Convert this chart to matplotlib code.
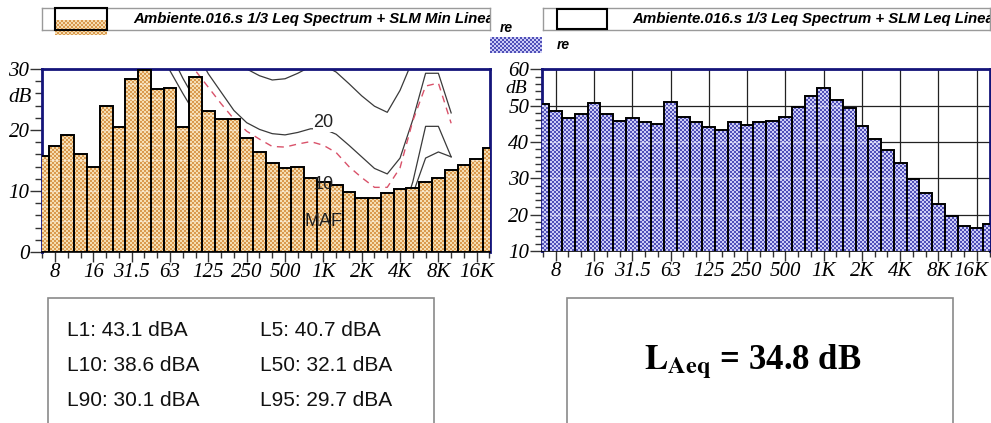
import numpy as np
import matplotlib
matplotlib.use('Agg')
import matplotlib.pyplot as plt
import matplotlib.transforms as mtransforms
from matplotlib.colors import to_rgb
from matplotlib.patches import Rectangle, PathPatch
from matplotlib.path import Path
from matplotlib.ticker import FixedLocator, MultipleLocator

W, H = 991, 423
fig = plt.figure(figsize=(W / 100, H / 100), dpi=100)

# ---------------- data ----------------
band_labels = ['6.3', '8', '10', '12.5', '16', '20', '25', '31.5', '40', '50', '63',
               '80', '100', '125', '160', '200', '250', '315', '400', '500', '630',
               '800', '1K', '1.25K', '1.6K', '2K', '2.5K', '3.15K', '4K', '5K',
               '6.3K', '8K', '10K', '12.5K', '16K', '20K']
min_spectrum = [15.7, 17.3, 19.2, 16.0, 13.9, 24.0, 20.5, 28.3, 29.8, 26.8, 26.9,
                20.5, 28.7, 23.1, 21.8, 21.8, 18.7, 16.4, 14.6, 13.8, 13.9,
                12.1, 11.5, 11.0, 9.9, 8.8, 8.9, 9.6, 10.3, 10.5, 11.4,
                12.1, 13.4, 14.3, 15.2, 17.1]
leq_spectrum = [50.5, 48.6, 46.7, 47.7, 50.9, 47.7, 45.9, 46.6, 45.5, 45.0, 51.0,
                46.8, 45.6, 44.2, 43.3, 45.5, 44.7, 45.6, 45.8, 47.0, 49.6,
                52.8, 54.8, 51.6, 49.5, 44.5, 40.9, 37.8, 34.3, 29.7, 26.1,
                22.9, 19.6, 17.0, 16.3, 17.4]
tick_labels = ['8', '16', '31.5', '63', '125', '250', '500', '1K', '2K', '4K', '8K', '16K']

# hearing contours, bands 50 Hz .. 10 kHz
contour_bands = band_labels[9:33]
maf_curve = [33.4, 29.7, 26.0, 22.5, 19.5, 16.5, 14.0, 12.0, 10.0, 8.5, 7.5,
             6.5, 5.5, 4.5, 3.0, 1.0, -1.0, -2.5, -3.0, -0.5, 9.5, 15.4, 16.4, 15.6]
phon10_curve = [37.0, 32.7, 28.5, 24.8, 21.8, 19.2, 17.0, 15.3, 14.0, 13.0, 12.2,
                11.6, 11.2, 10.6, 9.5, 7.5, 5.5, 3.5, 3.0, 5.0, 11.5, 20.6, 20.6, 15.6]
dashed_curve = [40.0, 36.0, 32.3, 29.7, 27.0, 24.3, 21.8, 19.8, 18.5, 17.3, 17.2,
                17.7, 18.1, 17.5, 16.3, 14.0, 12.2, 10.6, 10.6, 13.8, 21.5, 27.2,
                27.7, 21.1]
phon20_curve = [44.0, 40.0, 36.5, 33.0, 29.2, 26.2, 23.2, 21.2, 20.1, 19.4, 19.2,
                19.6, 20.2, 20.2, 19.3, 17.5, 15.6, 13.7, 12.8, 15.4, 21.7, 29.3,
                29.3, 22.8]
phon30_curve = [52.0, 48.0, 44.0, 41.0, 37.5, 33.5, 31.2, 30.0, 28.9, 28.2, 28.4,
                29.3, 30.4, 30.6, 29.5, 27.6, 25.6, 23.9, 22.9, 26.5, 31.5, 37.0,
                37.0, 33.0]

legend_texts = ['Ambiente.016.s 1/3 Leq Spectrum + SLM Min Linea',
                'Ambiente.016.s 1/3 Leq Spectrum + SLM Leq Linea']
stats_labels = ['L1', 'L5', 'L10', 'L50', 'L90', 'L95']
stats_values = [43.1, 40.7, 38.6, 32.1, 30.1, 29.7]
laeq_value = 34.8

# ---------------- helpers ----------------
def fx(x):
    return x / W


def fy(y):
    return 1 - y / H


def frect(x0, y0, x1, y1):
    return [fx(x0), fy(y1), (x1 - x0) / W, (y1 - y0) / H]


band_pos = np.arange(len(band_labels)) - 1          # 6.3 Hz sits at -1, 8 Hz at 0
tick_pos = [band_pos[band_labels.index(t)] for t in tick_labels]
contour_pos = [band_pos[band_labels.index(b)] for b in contour_bands]

NAVY = '#14147a'
ORANGE = ('#f6ddb0', '#d9994e')
BLUE = ('#cdcdf6', '#5050b8')


def checker(w, h, colors, cell=2):
    light, dark = np.array(to_rgb(colors[0])), np.array(to_rgb(colors[1]))
    yy, xx = np.mgrid[0:h, 0:w]
    mask = ((xx // cell) + (yy // cell)) % 2 == 1
    return np.where(mask[..., None], dark, light)


def style_axes(ax, ymin, ymax):
    for s in ax.spines.values():
        s.set_color(NAVY)
        s.set_linewidth(2.0)
    ax.spines['bottom'].set_color('black')
    ax.spines['bottom'].set_linewidth(1.2)
    ax.set_ylim(ymin, ymax)
    ax.xaxis.set_major_locator(FixedLocator(tick_pos))
    ax.xaxis.set_minor_locator(FixedLocator(list(band_pos)))
    ax.set_xticklabels(tick_labels)
    ax.yaxis.set_major_locator(MultipleLocator(10))
    ax.yaxis.set_minor_locator(MultipleLocator(2))
    ax.tick_params(axis='x', which='major', length=7, width=1, color='#333333', pad=1)
    ax.tick_params(axis='x', which='minor', length=4, width=1, color='#333333')
    ax.tick_params(axis='y', which='major', length=9, width=1, color='#333333', pad=0)
    ax.tick_params(axis='y', which='minor', length=5, width=1, color='#333333')
    for lab in ax.get_xticklabels() + ax.get_yticklabels():
        lab.set_fontfamily('Liberation Serif')
        lab.set_fontstyle('italic')
        lab.set_fontsize(15)


def draw_bars(ax, values, colors, xlim, ylim, white_lines):
    ax.set_xlim(*xlim)
    ax.set_ylim(*ylim)
    outline = ax.bar(band_pos, values, width=1.0, bottom=0, fill=False,
                     edgecolor='black', linewidth=1.4, zorder=4)
    paths = [b.get_path().transformed(b.get_patch_transform()) for b in outline]
    clip = PathPatch(Path.make_compound_path(*paths), transform=ax.transData,
                     facecolor='none', edgecolor='none')
    ax.add_patch(clip)
    bb = ax.get_window_extent()
    img = checker(int(round(bb.width)), int(round(bb.height)), colors)
    im = ax.imshow(img, extent=(xlim[0], xlim[1], ylim[0], ylim[1]), origin='lower',
                   aspect='auto', interpolation='nearest', zorder=3)
    im.set_clip_path(clip)
    ln = ax.hlines(white_lines, xlim[0], xlim[1], colors='white', linewidth=1.0,
                   alpha=0.45, zorder=3.5)
    ln.set_clip_path(clip)
    ax.set_xlim(*xlim)
    ax.set_ylim(*ylim)


# ---------------- left chart ----------------
ax1 = fig.add_axes(frect(42, 69, 490, 252))
for curve in (phon30_curve, phon20_curve, phon10_curve, maf_curve):
    ax1.plot(contour_pos, curve, color='#3a3a3a', linewidth=0.9, zorder=2)
ax1.plot(contour_pos, dashed_curve, color='#d9526a', linewidth=1.0,
         dashes=(5, 4), zorder=2)
draw_bars(ax1, min_spectrum, ORANGE, (-1.02, 34.04), (0, 30), np.arange(2.5, 30, 2.5))
style_axes(ax1, 0, 30)
i1k = contour_bands.index('1K')
ax1.text(contour_pos[i1k], phon20_curve[i1k] + 1.0, '20', ha='center', va='center',
         family='Liberation Sans', fontsize=13, color='#222222', zorder=5,
         bbox=dict(facecolor='white', edgecolor='none', pad=0.5))
ax1.text(contour_pos[i1k], phon10_curve[i1k] + 0.4, '10', ha='center', va='center',
         family='Liberation Sans', fontsize=13, color='#222222', zorder=5)
ax1.text(contour_pos[i1k], maf_curve[i1k] + 0.5, 'MAF', ha='center', va='center',
         family='Liberation Sans', fontsize=13, color='#222222', zorder=5)
fig.text(fx(20), fy(97), 'dB', ha='center', va='center',
         family='Liberation Serif', style='italic', size=15)

# ---------------- right chart ----------------
ax2 = fig.add_axes(frect(541.7, 69.5, 989.5, 251))
draw_bars(ax2, leq_spectrum, BLUE, (-1.1, 34.0), (10, 60), [20, 30, 40, 50])
style_axes(ax2, 10, 60)
ax2.grid(True, which='major', color='#222222', linewidth=0.9, zorder=1)
ax2.set_axisbelow(True)
last = ax2.get_xticklabels()[-1]
last.set_transform(last.get_transform() +
                   mtransforms.ScaledTranslation(-6 / 100, 0, fig.dpi_scale_trans))
fig.text(fx(516), fy(88.5), 'dB', ha='center', va='center',
         family='Liberation Serif', style='italic', size=14)

# ---------------- legends ----------------
leg_font = dict(family='Liberation Sans', weight='bold', style='italic', size=10.8)
for (x0, x1, tx, text) in [(41.7, 490, 133, legend_texts[0]),
                           (543.3, 990, 632.7, legend_texts[1])]:
    lax = fig.add_axes(frect(x0, 8.3, x1, 30))
    lax.set_xlim(x0, x1)
    lax.set_ylim(30, 8.3)
    lax.set_xticks([])
    lax.set_yticks([])
    for s in lax.spines.values():
        s.set_color('#9a9a9a')
        s.set_linewidth(1.0)
    lax.text(tx, 19.5, text, ha='left', va='center', clip_on=True, **leg_font)


def swatch(x0, y0, x1, y1, colors):
    sax = fig.add_axes(frect(x0, y0, x1, y1))
    sax.imshow(checker(int(round(x1 - x0)), int(round(y1 - y0)), colors),
               aspect='auto', interpolation='nearest')
    sax.set_axis_off()


swatch(55, 20, 106.7, 35, ORANGE)
swatch(490, 37.3, 541.7, 53.3, BLUE)
fig.patches.append(Rectangle((fx(55), fy(30)), 51.7 / W, 21.7 / H, transform=fig.transFigure,
                             fill=False, edgecolor='black', linewidth=1.5, zorder=6))
fig.patches.append(Rectangle((fx(556.7), fy(29.3)), 50 / W, 20 / H, transform=fig.transFigure,
                             fill=False, edgecolor='black', linewidth=1.5, zorder=6))
re_font = dict(family='Liberation Sans', weight='bold', style='italic', size=10)
fig.text(fx(500), fy(28.5), 're', ha='left', va='center', **re_font)
fig.text(fx(556.7), fy(45), 're', ha='left', va='center', **re_font)

# ---------------- bottom boxes ----------------
fig.patches.append(Rectangle((fx(48.3), fy(440)), (434.3 - 48.3) / W, (440 - 298.3) / H,
                             transform=fig.transFigure, fill=False,
                             edgecolor='#8a8a8a', linewidth=1.2))
fig.patches.append(Rectangle((fx(566.7), fy(440)), (953.3 - 566.7) / W, (440 - 298.3) / H,
                             transform=fig.transFigure, fill=False,
                             edgecolor='#8a8a8a', linewidth=1.2))
stat_font = dict(family='Liberation Sans', size=15, color='#111111')
for k, (lab, val) in enumerate(zip(stats_labels, stats_values)):
    col, row = k % 2, k // 2
    fig.text(fx(66.7 + col * 193.3), fy(330 + row * 35.3), f'{lab}: {val} dBA',
             ha='left', va='center', **stat_font)

plt.rcParams['mathtext.fontset'] = 'stix'
fig.text(fx(753), fy(362), r'$\mathbf{L}_{\mathbf{Aeq}}$' + f' = {laeq_value} dB',
         ha='center', va='center', family='Liberation Serif', weight='bold', size=25)

fig.savefig('out.png', dpi=100)
